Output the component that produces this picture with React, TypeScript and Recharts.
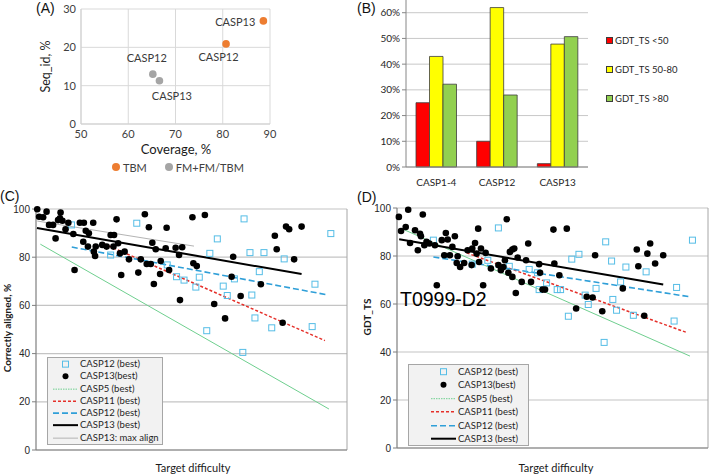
import React from "react";
import {
  ScatterChart,
  Scatter,
  BarChart,
  Bar,
  XAxis,
  YAxis,
  CartesianGrid,
  Legend,
  ReferenceLine,
} from "recharts";

const LATO = "Lato, 'Open Sans', sans-serif";
const ARIAL = "'Liberation Sans', Arial, sans-serif";

type Pt = [number, number];

// (A) template coverage vs sequence identity
const tbmCoverage = [88.6, 80.7];
const tbmSeqId = [26.9, 20.9];
const tbmNames = ["CASP13", "CASP12"];
const fmCoverage = [65.2, 66.6];
const fmSeqId = [13.0, 11.3];
const fmNames = ["CASP12", "CASP13"];
const aXTicks = [50, 60, 70, 80, 90];
const aYTicks = [0, 10, 20, 30];
const aLegendNames = ["TBM", "FM+FM/TBM"];

// (B) share of models per GDT_TS range
const bCategories = ["CASP1-4", "CASP12", "CASP13"];
const gdtBelow50 = [0.25, 0.1, 0.013];
const gdt50to80 = [0.43, 0.62, 0.478];
const gdtAbove80 = [0.322, 0.28, 0.507];
const bSeriesNames = ["GDT_TS <50", "GDT_TS 50-80", "GDT_TS >80"];
const bTicks = [0, 0.1, 0.2, 0.3, 0.4, 0.5, 0.6];

// (C) correctly aligned vs target difficulty
const cCasp12Best: Pt[] = [
  [11.4, 93.4], [32.4, 94.1], [24.0, 80.9], [42.2, 76.8], [45.2, 71.9], [47.6, 70.5],
  [51.4, 67.6], [52.5, 71.7], [55.9, 81.6], [58.3, 87.6], [60.2, 68.0], [61.5, 64.1],
  [63.8, 71.0], [66.9, 95.9], [68.8, 81.9], [69.4, 64.3], [71.8, 74.0], [73.3, 81.9],
  [79.8, 79.3], [89.7, 68.8], [94.8, 89.8], [54.9, 49.5], [66.5, 40.5], [70.4, 54.8],
  [75.8, 50.7], [88.8, 51.2],
];
const cCasp13Best: Pt[] = [
  [0.4, 99.9], [1.0, 96.8], [2.3, 96.6], [3.4, 98.9], [4.2, 93.4], [5.5, 93.4],
  [6.3, 87.8], [7.1, 95.4], [7.9, 98.5], [7.7, 96.1], [8.5, 95.1], [9.5, 91.6],
  [10.4, 94.3], [12.0, 89.6], [12.4, 74.7], [14.1, 94.3], [15.4, 94.3], [16.0, 91.0],
  [17.0, 89.9], [15.2, 86.4], [16.7, 84.4], [18.4, 94.3], [18.6, 82.3], [19.2, 84.4],
  [19.0, 80.5], [21.3, 85.1], [22.7, 84.4], [24.0, 89.2], [25.1, 89.2], [24.9, 84.4],
  [25.9, 95.7], [26.4, 85.8], [27.0, 81.6], [27.4, 72.6], [28.5, 82.3], [29.9, 79.1],
  [32.9, 73.6], [33.7, 79.1], [35.0, 97.8], [36.3, 92.4], [37.4, 86.0], [37.9, 68.9],
  [35.6, 77.2], [36.9, 77.2], [38.5, 83.3], [39.9, 73.0], [40.1, 78.4], [42.0, 92.2],
  [41.7, 83.7], [42.8, 74.7], [44.9, 83.9], [46.0, 80.9], [46.3, 62.2], [47.0, 84.1],
  [50.3, 96.6], [50.6, 77.5], [51.7, 76.3], [54.3, 97.5], [63.4, 80.2], [62.9, 71.9],
  [65.8, 63.9], [57.3, 60.6], [60.8, 54.6], [72.3, 68.8], [76.8, 88.9], [77.4, 83.3],
  [80.4, 92.7], [81.4, 91.6], [85.4, 92.7], [83.0, 79.1], [79.3, 52.8],
];
const cCasp5Fit: Pt[] = [[1.4, 85.4], [94.2, 17.0]];
const cCasp11Fit: Pt[] = [[21.9, 85.5], [92.9, 45.4]];
const cCasp12Fit: Pt[] = [[11.5, 84.2], [94.0, 64.3]];
const cCasp13Fit: Pt[] = [[0.3, 92.1], [85.4, 73.0]];
const cMaxAlignFit: Pt[] = [[0.4, 95.0], [50.8, 84.6]];
const cLegendNames = [
  "CASP12 (best)", "CASP13(best)", "CASP5 (best)", "CASP11 (best)",
  "CASP12 (best)", "CASP13 (best)", "CASP13: max align",
];

// (D) GDT_TS vs target difficulty
const dCasp12Best: Pt[] = [
  [11.7, 86.6], [32.6, 91.7], [24.2, 76.6], [29.2, 78.2], [36.1, 75.7], [42.5, 74.4],
  [45.2, 73.0], [48.1, 68.8], [45.7, 66.0], [56.2, 78.7], [58.5, 80.7], [67.1, 85.9],
  [69.0, 77.9], [73.6, 75.4], [80.1, 73.4], [71.9, 69.2], [64.0, 66.5], [51.5, 66.0],
  [52.6, 66.0], [60.5, 63.7], [69.4, 61.9], [61.5, 59.8], [70.6, 57.4], [55.1, 54.9],
  [76.0, 55.3], [89.1, 52.9], [89.9, 66.9], [95.0, 86.6], [66.6, 44.0],
];
const dCasp13Best: Pt[] = [
  [0.6, 96.3], [3.6, 99.3], [1.3, 90.4], [2.8, 92.1], [8.3, 97.3], [5.8, 90.7],
  [7.4, 89.3], [7.7, 88.2], [4.2, 85.4], [8.8, 84.5], [6.7, 82.4], [9.5, 85.9],
  [10.4, 85.2], [12.2, 84.5], [14.4, 86.6], [15.7, 89.6], [16.3, 86.9], [18.6, 88.2],
  [17.8, 83.8], [15.2, 80.3], [17.0, 80.3], [19.5, 79.9], [19.2, 77.1], [20.3, 75.4],
  [21.6, 77.1], [12.8, 67.8], [22.7, 82.4], [24.2, 83.1], [25.1, 85.4], [26.1, 91.4],
  [27.0, 83.1], [25.6, 81.0], [28.5, 81.3], [26.4, 77.5], [24.0, 76.2], [27.7, 67.8],
  [30.2, 74.8], [32.6, 76.2], [33.4, 74.1], [34.2, 75.4], [34.7, 78.2], [35.3, 95.3],
  [36.3, 81.7], [37.1, 82.7], [37.7, 83.1], [35.8, 73.0], [37.1, 71.3], [38.2, 64.6],
  [38.8, 79.4], [40.1, 69.2], [41.5, 78.2], [42.2, 85.2], [43.1, 69.2], [45.7, 76.6],
  [46.0, 73.0], [46.8, 66.0], [47.6, 66.0], [50.3, 91.0], [50.6, 76.9], [52.2, 72.0],
  [54.6, 91.4], [63.7, 80.3], [77.1, 82.7], [81.4, 85.2], [80.5, 81.0], [85.6, 80.3],
  [77.6, 75.7], [83.0, 76.9], [72.6, 66.5], [61.0, 63.0], [62.9, 62.7], [57.6, 58.1],
  [66.0, 57.0], [79.5, 55.1],
];
const dCasp5Fit: Pt[] = [[1.5, 91.4], [94.2, 38.3]];
const dCasp11Fit: Pt[] = [[22.4, 81.3], [93.2, 48.1]];
const dCasp12Fit: Pt[] = [[11.7, 79.6], [94.2, 63.0]];
const dCasp13Fit: Pt[] = [[0.7, 87.0], [85.6, 68.1]];
const dLegendNames = cLegendNames.slice(0, 6);
const cdYTicks = [0, 20, 40, 60, 80, 100];

const toXY = (pts: Pt[]) => pts.map(([x, y]) => ({ x, y }));

const GREEN_FIT = "#6fcf8f";
const RED_FIT = "#e5302a";
const BLUE_FIT = "#2f9fd8";
const SQUARE_BLUE = "#55bde6";

const AxisTitle = (props: any) => {
  const { tx, ty, text, rotate, size = 10, weight = 400, family = LATO } = props;
  return (
    <text
      x={tx}
      y={ty}
      transform={rotate ? `rotate(-90 ${tx} ${ty})` : undefined}
      textAnchor="middle"
      dominantBaseline="central"
      fontSize={size}
      fontWeight={weight}
      fontFamily={family}
      fill="#1a1a1a"
    >
      {text}
    </text>
  );
};

// label offsets around the points of panel A
const aLabelPlace: Record<string, { dx: number; dy: number; anchor: string }[]> = {
  tbm: [
    { dx: -8, dy: 1, anchor: "end" },
    { dx: -7.5, dy: 12.5, anchor: "middle" },
  ],
  fm: [
    { dx: -6, dy: -17, anchor: "middle" },
    { dx: 12.5, dy: 15, anchor: "middle" },
  ],
};

function PanelA() {
  const tbm = tbmCoverage.map((x, i) => ({ x, y: tbmSeqId[i], name: tbmNames[i], i }));
  const fm = fmCoverage.map((x, i) => ({ x, y: fmSeqId[i], name: fmNames[i], i }));
  const dot = (color: string, group: string) => (p: any) => {
    const place = aLabelPlace[group][p.payload.i];
    return (
      <g>
        <circle cx={p.cx} cy={p.cy} r={3.8} fill={color} />
        <text
          x={p.cx + place.dx}
          y={p.cy + place.dy}
          textAnchor={place.anchor as any}
          dominantBaseline="central"
          fontSize={11}
          fontFamily={LATO}
          fill="#3a3a3a"
        >
          {p.payload.name}
        </text>
      </g>
    );
  };
  const colors = ["#ed7d31", "#a5a5a5"];
  return (
    <ScatterChart width={330} height={185} margin={{ top: 9, right: 60, left: 41, bottom: 31 }}>
      <CartesianGrid stroke="#d9d9d9" />
      <XAxis
        type="number"
        dataKey="x"
        domain={[50, 90]}
        ticks={aXTicks}
        tickLine={false}
        tickSize={0}
        tickMargin={6}
        height={30}
        axisLine={{ stroke: "#d0d0d0" }}
        tick={{ fontSize: 11, fontFamily: LATO, fill: "#404040" }}
        label={<AxisTitle tx={176} ty={149} text="Coverage, %" size={13} />}
      />
      <YAxis
        type="number"
        dataKey="y"
        domain={[0, 30]}
        ticks={aYTicks}
        tickLine={false}
        tickSize={0}
        tickMargin={5}
        width={40}
        axisLine={{ stroke: "#d0d0d0" }}
        tick={{ fontSize: 11, fontFamily: LATO, fill: "#404040" }}
        label={<AxisTitle tx={45} ty={66.5} text="Seq_id, %" size={12.5} rotate />}
      />
      <Scatter data={fm} shape={dot(colors[1], "fm")} isAnimationActive={false} />
      <Scatter data={tbm} shape={dot(colors[0], "tbm")} isAnimationActive={false} />
      <Legend
        layout="vertical"
        align="center"
        verticalAlign="middle"
        wrapperStyle={{ left: 112, top: 160, width: 140 }}
        content={() => (
          <div style={{ display: "flex", alignItems: "center", fontFamily: LATO, fontSize: 11, color: "#404040", height: 14 }}>
            {aLegendNames.map((n, i) => (
              <span key={n} style={{ display: "flex", alignItems: "center", marginRight: 18 }}>
                <span style={{ width: 8, height: 8, borderRadius: 4, background: colors[i], marginRight: 3 }} />
                {n}
              </span>
            ))}
          </div>
        )}
      />
    </ScatterChart>
  );
}

const barColors = ["#ff0000", "#ffff00", "#92d050"];

function PanelB() {
  const data = bCategories.map((name, i) => ({
    name,
    low: gdtBelow50[i],
    mid: gdt50to80[i],
    high: gdtAbove80[i],
  }));
  const keys = ["low", "mid", "high"];
  return (
    <BarChart
      width={379}
      height={230}
      data={data}
      margin={{ top: 7, right: 121, left: 36, bottom: 13 }}
      barGap={0}
      barSize={13.5}
    >
      <CartesianGrid vertical={false} stroke="#c8c8c8" />
      <XAxis
        dataKey="name"
        tickLine={false}
        tickSize={6}
        tickMargin={6}
        height={30}
        axisLine={{ stroke: "#868686" }}
        tick={{ fontSize: 10, fontFamily: LATO, fill: "#262626" }}
      />
      <YAxis
        domain={[0, 0.7]}
        ticks={bTicks}
        width={40}
        tickSize={4}
        tickMargin={2}
        tickLine={{ stroke: "#868686" }}
        axisLine={{ stroke: "#868686" }}
        tickFormatter={(v: number) => `${Math.round(v * 100)}%`}
        tick={{ fontSize: 10, fontFamily: LATO, fill: "#262626" }}
      />
      <YAxis yAxisId="r" orientation="right" width={0} tick={false} tickLine={false} axisLine={{ stroke: "#a0a0a0" }} />
      {keys.map((k, i) => (
        <Bar key={k} dataKey={k} fill={barColors[i]} stroke="#3c3c3c" strokeWidth={0.8} isAnimationActive={false} />
      ))}
      <Legend
        layout="vertical"
        align="center"
        verticalAlign="middle"
        wrapperStyle={{ left: 276, top: 45.5, width: 100 }}
        content={() => (
          <div style={{ fontFamily: LATO, fontSize: 9.5, color: "#262626" }}>
            {bSeriesNames.map((n, i) => (
              <div key={n} style={{ height: 29, display: "flex", alignItems: "center" }}>
                <span
                  style={{
                    width: 7,
                    height: 7,
                    background: barColors[i],
                    border: "0.8px solid #3c3c3c",
                    boxSizing: "border-box",
                    marginRight: 2,
                  }}
                />
                {n}
              </div>
            ))}
          </div>
        )}
      />
    </BarChart>
  );
}

type Sym = { kind: "square" | "dot" | "line"; stroke?: string; dash?: string; w?: number };
const legendSymbols: Sym[] = [
  { kind: "square" },
  { kind: "dot" },
  { kind: "line", stroke: GREEN_FIT, dash: "1.5 1", w: 1 },
  { kind: "line", stroke: RED_FIT, dash: "3 2", w: 1.5 },
  { kind: "line", stroke: BLUE_FIT, dash: "6 3", w: 1.6 },
  { kind: "line", stroke: "#000", w: 2 },
  { kind: "line", stroke: "#b4b4b4", w: 1 },
];

function SeriesBox(props: { names: string[]; rowH: number; symX: number; textX: number }) {
  const { names, rowH, symX, textX } = props;
  return (
    <div style={{ background: "#f2f2f2", border: "1px solid #a6a6a6", boxSizing: "border-box" }}>
      {names.map((n, i) => {
        const s = legendSymbols[i];
        const mid = rowH / 2;
        return (
          <div key={i} style={{ position: "relative", height: rowH }}>
            <svg width={25} height={rowH} style={{ position: "absolute", left: symX, top: 0 }}>
              {s.kind === "square" && (
                <rect x={9.5} y={mid - 3} width={6} height={6} fill="none" stroke={SQUARE_BLUE} strokeWidth={1} />
              )}
              {s.kind === "dot" && <circle cx={12.5} cy={mid} r={3} fill="#000" />}
              {s.kind === "line" && (
                <line x1={0} x2={25} y1={mid} y2={mid} stroke={s.stroke} strokeWidth={s.w} strokeDasharray={s.dash} />
              )}
            </svg>
            <span
              style={{
                position: "absolute",
                left: textX,
                top: 0,
                lineHeight: `${rowH}px`,
                fontSize: 9.5,
                fontFamily: LATO,
                color: "#1f1f1f",
                whiteSpace: "nowrap",
              }}
            >
              {n}
            </span>
          </div>
        );
      })}
    </div>
  );
}

const squareShape = (p: any) => (
  <rect x={p.cx - 3} y={p.cy - 3} width={6} height={6} fill="none" stroke={SQUARE_BLUE} strokeWidth={1} />
);
const dotShape = (p: any) => <circle cx={p.cx} cy={p.cy} r={3.3} fill="#000" />;
const noShape = () => <g />;

function fitLine(pts: Pt[], stroke: string, width: number, dash?: string) {
  return (
    <Scatter
      data={toXY(pts)}
      line={{ stroke, strokeWidth: width, strokeDasharray: dash }}
      shape={noShape}
      legendType="none"
      isAnimationActive={false}
    />
  );
}

function DifficultyPanel(props: {
  width: number;
  left: number;
  yWidthLeft: number;
  top: number;
  xHeight: number;
  right: number;
  yTitle: string;
  yTitleX: number;
  yTitleY: number;
  xTitleX: number;
  squares: Pt[];
  dots: Pt[];
  fits: Pt[][];
  maxAlign?: Pt[];
  names: string[];
  legendPos: { left: number; top: number; width: number };
  rowH: number;
  symX: number;
  textX: number;
}) {
  const p = props;
  return (
    <ScatterChart width={p.width} height={274} margin={{ top: p.top, right: p.right, left: p.left, bottom: 0 }}>
      <CartesianGrid vertical={false} stroke="#c4c4c4" strokeWidth={1.2} />
      <XAxis
        type="number"
        dataKey="x"
        domain={[0, 100]}
        tick={false}
        tickLine={false}
        height={p.xHeight}
        axisLine={{ stroke: "#7f7f7f", strokeWidth: 1.2 }}
        label={<AxisTitle tx={p.xTitleX} ty={267} text="Target difficulty" size={11} />}
      />
      <YAxis
        type="number"
        dataKey="y"
        domain={[0, 100]}
        ticks={cdYTicks}
        width={p.yWidthLeft}
        tickSize={4}
        tickMargin={2}
        tickLine={{ stroke: "#7f7f7f" }}
        axisLine={{ stroke: "#7f7f7f", strokeWidth: 1.2 }}
        tick={{ fontSize: 10, fontFamily: ARIAL, fill: "#262626" }}
        label={<AxisTitle tx={p.yTitleX} ty={p.yTitleY} text={p.yTitle} size={10} weight={700} rotate />}
      />
      <ReferenceLine x={100} stroke="#a6a6a6" />
      {fitLine(p.fits[0], GREEN_FIT, 1)}
      {p.maxAlign && fitLine(p.maxAlign, "#b4b4b4", 1)}
      {fitLine(p.fits[1], RED_FIT, 1.5, "3 2")}
      {fitLine(p.fits[2], BLUE_FIT, 1.6, "6 3")}
      {fitLine(p.fits[3], "#000", 2)}
      <Scatter data={toXY(p.squares)} shape={squareShape} isAnimationActive={false} />
      <Scatter data={toXY(p.dots)} shape={dotShape} isAnimationActive={false} />
      <Legend
        layout="vertical"
        align="center"
        verticalAlign="middle"
        wrapperStyle={p.legendPos}
        content={() => <SeriesBox names={p.names} rowH={p.rowH} symX={p.symX} textX={p.textX} />}
      />
    </ScatterChart>
  );
}

const letterStyle: React.CSSProperties = {
  position: "absolute",
  fontFamily: ARIAL,
  fontSize: 14,
  lineHeight: "14px",
  color: "#111",
};

export default function App() {
  return (
    <div
      style={{
        position: "absolute",
        left: 0,
        top: 0,
        width: 709,
        height: 474,
        overflow: "hidden",
        background: "#fff",
      }}
    >
      <div style={{ position: "absolute", left: 0, top: 0 }}>
        <PanelA />
      </div>
      <div style={{ position: "absolute", left: 330, top: -20 }}>
        <PanelB />
      </div>
      <div style={{ position: "absolute", left: 0, top: 200 }}>
        <DifficultyPanel
          width={355}
          left={4}
          yWidthLeft={32}
          top={9}
          xHeight={24}
          right={8}
          yTitle="Correctly aligned, %"
          yTitleX={6.5}
          yTitleY={128}
          xTitleX={193}
          squares={cCasp12Best}
          dots={cCasp13Best}
          fits={[cCasp5Fit, cCasp11Fit, cCasp12Fit, cCasp13Fit]}
          maxAlign={cMaxAlignFit}
          names={cLegendNames}
          legendPos={{ left: 47, top: 157, width: 116 }}
          rowH={12.3}
          symX={5}
          textX={32}
        />
      </div>
      <div style={{ position: "absolute", left: 355, top: 200 }}>
        <DifficultyPanel
          width={354}
          left={10}
          yWidthLeft={32}
          top={8}
          xHeight={26}
          right={1}
          yTitle="GDT_TS"
          yTitleX={11.5}
          yTitleY={117}
          xTitleX={201}
          squares={dCasp12Best}
          dots={dCasp13Best}
          fits={[dCasp5Fit, dCasp11Fit, dCasp12Fit, dCasp13Fit]}
          names={dLegendNames}
          legendPos={{ left: 53, top: 164, width: 121 }}
          rowH={13.4}
          symX={22}
          textX={49}
        />
      </div>
      <div style={{ position: "absolute", left: 400, top: 290, fontFamily: ARIAL, fontSize: 19.5, lineHeight: "19.5px", color: "#000" }}>
        T0999-D2
      </div>
      <div style={{ ...letterStyle, left: 36, top: 1 }}>(A)</div>
      <div style={{ ...letterStyle, left: 357, top: 1 }}>(B)</div>
      <div style={{ ...letterStyle, left: 0, top: 189 }}>(C)</div>
      <div style={{ ...letterStyle, left: 357, top: 190 }}>(D)</div>
    </div>
  );
}
